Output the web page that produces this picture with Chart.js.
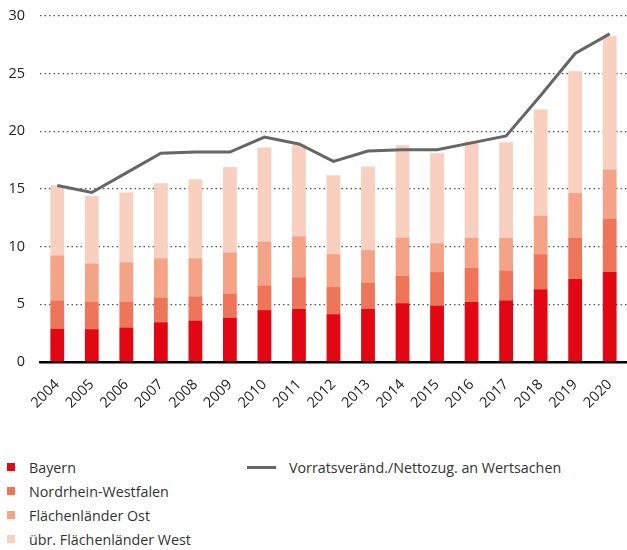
<!DOCTYPE html>
<html>
<head>
<meta charset="utf-8">
<script src="https://cdn.jsdelivr.net/npm/chart.js@4"></script>
<style>
  html, body { margin: 0; padding: 0; background: #fff; }
  body { width: 627px; height: 550px; overflow: hidden; font-family: "Open Sans", Lato, sans-serif; color: #333; }
  #wrap { position: relative; width: 627px; height: 430px; overflow: hidden; }
  #grafico { position: absolute; left: 0; top: 0; }
  #legend { position: relative; height: 120px; font-size: 14.3px; }
  .item { position: absolute; display: flex; align-items: center; height: 20px; }
  .box { width: 8px; height: 8px; margin-right: 14px; }
  .ln { width: 29px; height: 3px; margin-right: 13px; }
</style>
</head>
<body>
<div id="wrap"><canvas id="grafico" width="636" height="430"></canvas></div>
<div id="legend"></div>
<script>
// jahre
var jahre = ['2004','2005','2006','2007','2008','2009','2010','2011','2012','2013','2014','2015','2016','2017','2018','2019','2020'];

// werte je land (gestapelt)
var bayern = [2.9, 2.85, 3.0, 3.45, 3.6, 3.85, 4.5, 4.6, 4.15, 4.6, 5.1, 4.9, 5.2, 5.35, 6.3, 7.2, 7.8];
var nrw    = [2.45, 2.35, 2.25, 2.15, 2.1, 2.1, 2.15, 2.75, 2.35, 2.3, 2.4, 2.9, 2.95, 2.6, 3.05, 3.55, 4.65];
var ost    = [3.9, 3.35, 3.4, 3.4, 3.3, 3.55, 3.8, 3.55, 2.85, 2.8, 3.3, 2.5, 2.6, 2.8, 3.35, 3.9, 4.25];
var west   = [6.05, 5.85, 6.05, 6.5, 6.85, 7.4, 8.15, 7.95, 6.85, 7.25, 8.0, 7.8, 8.4, 8.3, 9.2, 10.55, 11.55];

// linie
var vorrat = [15.3, 14.7, 16.4, 18.1, 18.2, 18.2, 19.5, 18.9, 17.4, 18.3, 18.4, 18.4, 19.0, 19.6, 23.1, 26.75, 28.45];

var yTicks = [0, 5, 10, 15, 20, 25, 30];

var fuente = '"Open Sans", Lato, sans-serif';

function barra(label, data, color) {
	return {
		type: 'bar',
		label: label,
		data: data,
		backgroundColor: color,
		stack: 'laender',
		barPercentage: 0.4,
		categoryPercentage: 1,
		order: 2
	};
}

window.grafico = new Chart(document.getElementById('grafico'), {
	data: {
		labels: jahre,
		datasets: [
			{
				type: 'line',
				label: 'Vorratsveränd./Nettozug. an Wertsachen',
				data: vorrat,
				borderColor: '#666666',
				borderWidth: 3,
				pointRadius: 0,
				tension: 0,
				order: 1
			},
			barra('Bayern', bayern, '#e30613'),
			barra('Nordrhein-Westfalen', nrw, '#ee7559'),
			barra('Flächenländer Ost', ost, '#f4a386'),
			barra('übr. Flächenländer West', west, '#f9cfc0')
		]
	},
	options: {
		responsive: false,
		animation: false,
		layout: { padding: { top: 16, right: 0, left: 0, bottom: 0 } },
		plugins: {
			legend: { display: false },
			tooltip: { enabled: false }
		},
		scales: {
			x: {
				stacked: true,
				grid: { display: false, drawTicks: false },
				border: { display: true, color: '#000', width: 2.5 },
				ticks: {
					color: '#222',
					font: { family: fuente, size: 14.5 },
					maxRotation: 45,
					minRotation: 45,
					padding: 14
				},
				afterFit: function (s) { s.height = 68; }
			},
			y: {
				stacked: true,
				min: 0,
				max: 30,
				afterBuildTicks: function (s) { s.ticks = yTicks.map(function (v) { return { value: v }; }); },
				grid: {
					color: function (c) { return c.tick && c.tick.value === 0 ? 'rgba(0,0,0,0)' : '#555'; },
					lineWidth: 1.3,
					drawTicks: false
				},
				border: { display: false, dash: [1.5, 3] },
				ticks: {
					color: '#222',
					font: { family: fuente, size: 14.5 },
					padding: 15
				},
				afterFit: function (s) {
					s.width = 40;
					// el padding de los ticks no debe empujar el area hacia abajo
					s.paddingTop = 8;
					s.paddingBottom = 8;
				}
			}
		}
	}
});

// leyenda html a partir de los datasets
function leyenda(chart) {
	var cont = document.getElementById('legend');
	var ds = chart.data.datasets;
	var fila = 0;
	for (var i = 0; i < ds.length; i++) {
		var d = ds[i];
		var el = document.createElement('div');
		el.className = 'item';
		var mk = document.createElement('span');
		if (d.type === 'line') {
			mk.className = 'ln';
			mk.style.background = d.borderColor;
			el.style.left = '247px';
			el.style.top = '27px';
		} else {
			mk.className = 'box';
			mk.style.background = d.backgroundColor;
			el.style.left = '7px';
			el.style.top = (27 + fila * 24) + 'px';
			fila++;
		}
		el.appendChild(mk);
		el.appendChild(document.createTextNode(d.label));
		cont.appendChild(el);
	}
}
leyenda(window.grafico);
</script>
</body>
</html>
